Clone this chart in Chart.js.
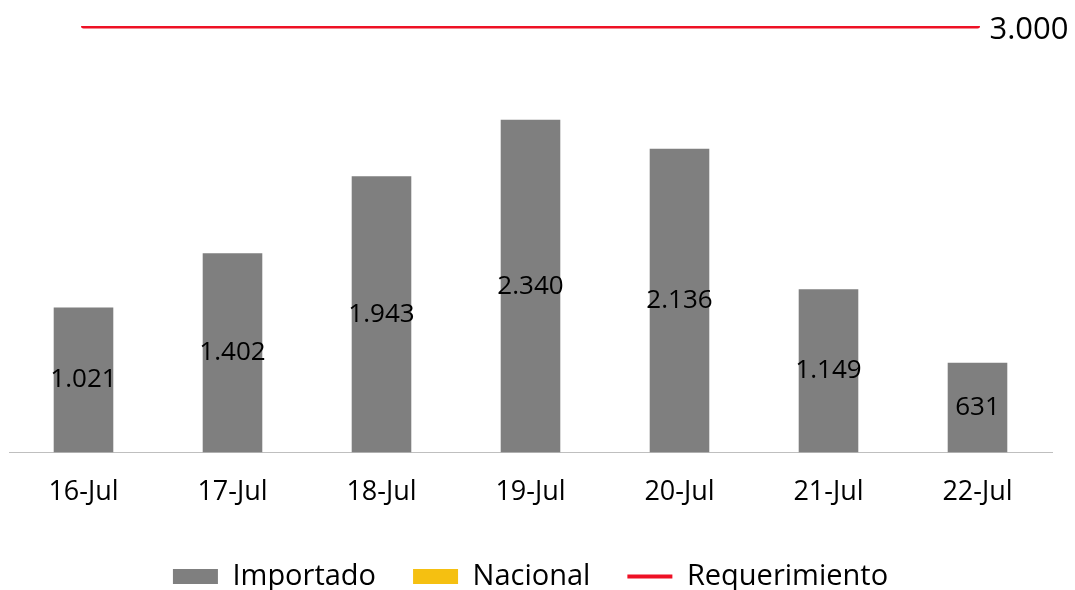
<!DOCTYPE html>
<html>
<head>
<meta charset="utf-8">
<script src="https://cdn.jsdelivr.net/npm/chart.js@4"></script>
<style>
  html, body { margin: 0; padding: 0; background: #fff; overflow: hidden; }
  #wrap { width: 1075px; height: 590px; }
</style>
</head>
<body>
<div id="wrap"><canvas id="chart"></canvas></div>
<script>
// === Data ===
const categories = ['16-Jul', '17-Jul', '18-Jul', '19-Jul', '20-Jul', '21-Jul', '22-Jul'];
const importado = [1021, 1402, 1943, 2340, 2136, 1149, 631];
const nacional = [0, 0, 0, 0, 0, 0, 0];
const requerimiento = [3000, 3000, 3000, 3000, 3000, 3000, 3000];

// === Style ===
const FONT = 'Open Sans';
const GREY = '#7F7F7F';
const YELLOW = '#F5C011';
const RED = '#EE1125';

// formato 1.021
function fmt(v) {
    return v.toString().replace(/\B(?=(\d{3})+(?!\d))/g, '.');
}

// etiquetas de valor + etiqueta final da linha
const valueLabels = {
    id: 'valueLabels',
    afterDatasetsDraw(chart) {
        const ctx = chart.ctx;
        ctx.save();
        ctx.fillStyle = '#000';
        ctx.font = '26px "' + FONT + '"';
        ctx.textAlign = 'center';
        ctx.textBaseline = 'middle';
        chart.getDatasetMeta(0).data.forEach((bar, i) => {
            ctx.fillText(fmt(importado[i]), bar.x, (bar.y + bar.base) / 2);
        });
        const pts = chart.getDatasetMeta(2).data;
        const last = pts[pts.length - 1];
        ctx.font = '31px "' + FONT + '"';
        ctx.textAlign = 'left';
        ctx.fillText(fmt(requerimiento[requerimiento.length - 1]), last.x + 12, last.y + 4);
        ctx.restore();
    }
};

new Chart(document.getElementById('chart'), {
    data: {
        labels: categories,
        datasets: [
            { type: 'bar', label: 'Importado', data: importado, backgroundColor: GREY,
              stack: 's', categoryPercentage: 1, barPercentage: 0.4, order: 2 },
            { type: 'bar', label: 'Nacional', data: nacional, backgroundColor: YELLOW,
              stack: 's', categoryPercentage: 1, barPercentage: 0.4, order: 2 },
            { type: 'line', label: 'Requerimiento', data: requerimiento, borderColor: RED,
              borderWidth: 5, borderCapStyle: 'round', pointRadius: 0, order: 1 }
        ]
    },
    options: {
        responsive: true,
        maintainAspectRatio: false,
        animation: false,
        // bottom negativo: empurra a legenda mais perto da borda
        layout: { padding: { top: 26, left: 9, right: 23, bottom: -11 } },
        scales: {
            x: {
                stacked: true,
                grid: { display: false },
                border: { display: true, color: '#BFBFBF', width: 1 },
                ticks: { color: '#000', font: { family: FONT, size: 27 }, padding: 16 }
            },
            y: {
                stacked: true,
                display: false,
                min: 0,
                max: 3000
            }
        },
        plugins: {
            tooltip: { enabled: false },
            legend: {
                position: 'bottom',
                labels: {
                    color: '#000',
                    font: { family: FONT, size: 29 },
                    usePointStyle: true,
                    pointStyleWidth: 45,
                    boxHeight: 15,
                    padding: 37,
                    generateLabels() {
                        return [
                            { text: 'Importado', fillStyle: GREY, strokeStyle: GREY, lineWidth: 0, pointStyle: 'rect', datasetIndex: 0 },
                            { text: 'Nacional', fillStyle: YELLOW, strokeStyle: YELLOW, lineWidth: 0, pointStyle: 'rect', datasetIndex: 1 },
                            { text: 'Requerimiento', fillStyle: RED, strokeStyle: RED, lineWidth: 4, pointStyle: 'line', datasetIndex: 2 }
                        ];
                    }
                }
            }
        }
    },
    plugins: [valueLabels]
});
</script>
</body>
</html>
